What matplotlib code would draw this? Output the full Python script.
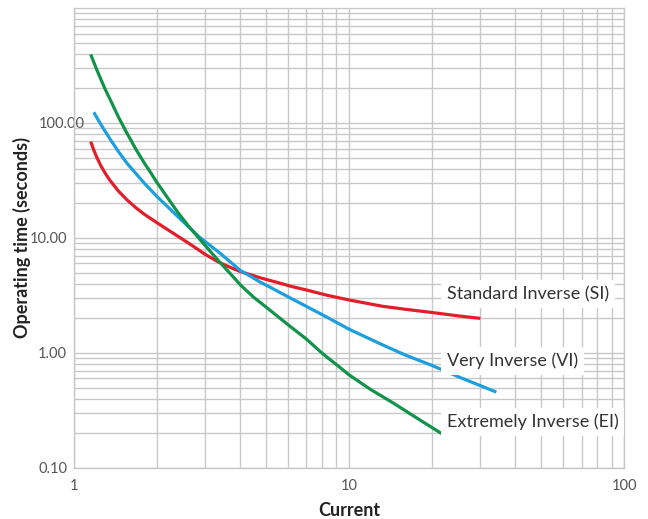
import numpy as np
import matplotlib.pyplot as plt
from matplotlib.transforms import ScaledTranslation

""" Curve data read off the chart """
si_current = [1.15, 1.18, 1.21, 1.25, 1.30, 1.35, 1.45, 1.56, 1.68, 1.80, 2.0, 2.35, 2.65, 3.0,
              3.34, 3.7, 4.03, 4.4, 4.76, 5.5, 6.2, 7.0, 8.3, 10, 13.2, 16, 20, 25, 30]
si_time = [68.9, 58.2, 50.4, 42.8, 36.4, 31.8, 25.6, 21.4, 18.3, 16.1, 13.6, 10.6, 8.8, 7.2,
           6.2, 5.55, 5.1, 4.78, 4.5, 4.1, 3.78, 3.53, 3.18, 2.89, 2.55, 2.4, 2.25, 2.1, 2.0]

vi_current = [1.18, 1.22, 1.27, 1.35, 1.45, 1.56, 1.68, 1.80, 2.0, 2.2, 2.38, 2.6, 2.83, 3.0,
              3.4, 3.7, 4.03, 4.4, 4.76, 5.2, 5.68, 7.0, 8.3, 10, 13.2, 16, 20, 25, 34.3]
vi_time = [124, 108, 92, 73, 56.5, 44.5, 36.3, 30.0, 23.0, 18.5, 15.4, 12.6, 10.4, 9.3,
           7.35, 6.2, 5.2, 4.62, 4.12, 3.7, 3.3, 2.54, 2.05, 1.61, 1.18, 0.96, 0.78, 0.62, 0.457]

ei_current = [1.15, 1.2, 1.25, 1.3, 1.35, 1.45, 1.56, 1.68, 1.8, 1.9, 2.0, 2.2, 2.38, 2.6, 2.83,
              3.0, 3.34, 3.7, 4.03, 4.5, 5.0, 6.0, 7.0, 8.0, 9.13, 10, 12, 14.4, 17.5, 21.7]
ei_time = [395, 305, 242, 195, 162, 113, 81, 59, 45, 37, 30.5, 22, 16.8, 12.8, 10.1,
           8.6, 6.4, 4.9, 3.9, 3.05, 2.5, 1.76, 1.32, 0.99, 0.77, 0.645, 0.48, 0.37, 0.275, 0.199]

curve_names = ["Standard Inverse (SI)", "Very Inverse (VI)", "Extremely Inverse (EI)"]
label_times = [3.26, 0.85, 0.251]

y_ticks = [0.1, 1, 10, 100]
y_tick_labels = ["0.10", "1.00", "10.00", "100.00"]
x_ticks = [1, 10, 100]
x_tick_labels = ["1", "10", "100"]

plt.rcParams['font.family'] = ['Lato', 'DejaVu Sans']

fig = plt.figure(figsize=(6.48, 5.19), dpi=100)
ax = fig.add_axes([0.1142, 0.0983, 0.849, 0.8863])

colors = ['#e31e2a', '#1b9fdf', '#12934a']
for xs, ys, c in zip([si_current, vi_current, ei_current], [si_time, vi_time, ei_time], colors):
    ax.plot(xs, ys, color=c, lw=2.3, solid_capstyle='butt', solid_joinstyle='round', zorder=3)

ax.set_xscale('log')
ax.set_yscale('log')
ax.set_xlim(1, 100)
ax.set_ylim(0.1, 1000)

""" Grid """
grid_color = '#c8c8c8'
ax.grid(True, which='both', color=grid_color, lw=1.0)
ax.set_axisbelow(True)
for s in ax.spines.values():
    s.set_color(grid_color)
    s.set_linewidth(1.0)

ax.set_xticks(x_ticks)
ax.set_xticklabels(x_tick_labels)
ax.set_yticks(y_ticks)
ax.set_yticklabels(y_tick_labels)
ax.tick_params(which='both', length=0, labelsize=10.5, labelcolor='#555555')
ax.tick_params(axis='x', pad=8)
ax.tick_params(axis='y', pad=5)

# the 100.00 label sits a bit to the right in the original
lab = ax.get_yticklabels()[3]
lab.set_transform(lab.get_transform() + ScaledTranslation(13 / 72, 0, fig.dpi_scale_trans))

""" Axis titles """
fig.text(349 / 648, 1 - 511 / 519, "Current", fontsize=13, fontweight='bold',
         color='#222222', ha='center', va='center')
fig.text(22 / 648, 1 - 238 / 519, "Operating time (seconds)", fontsize=13, fontweight='bold',
         color='#222222', ha='center', va='center', rotation=90)

""" Curve labels """
for name, ty in zip(curve_names, label_times):
    ax.text(22.7, ty, name, fontsize=13, color='#333333', ha='left', va='center', zorder=4,
            bbox=dict(facecolor='white', edgecolor='none', pad=4))

fig.savefig("out.png", dpi=100)
